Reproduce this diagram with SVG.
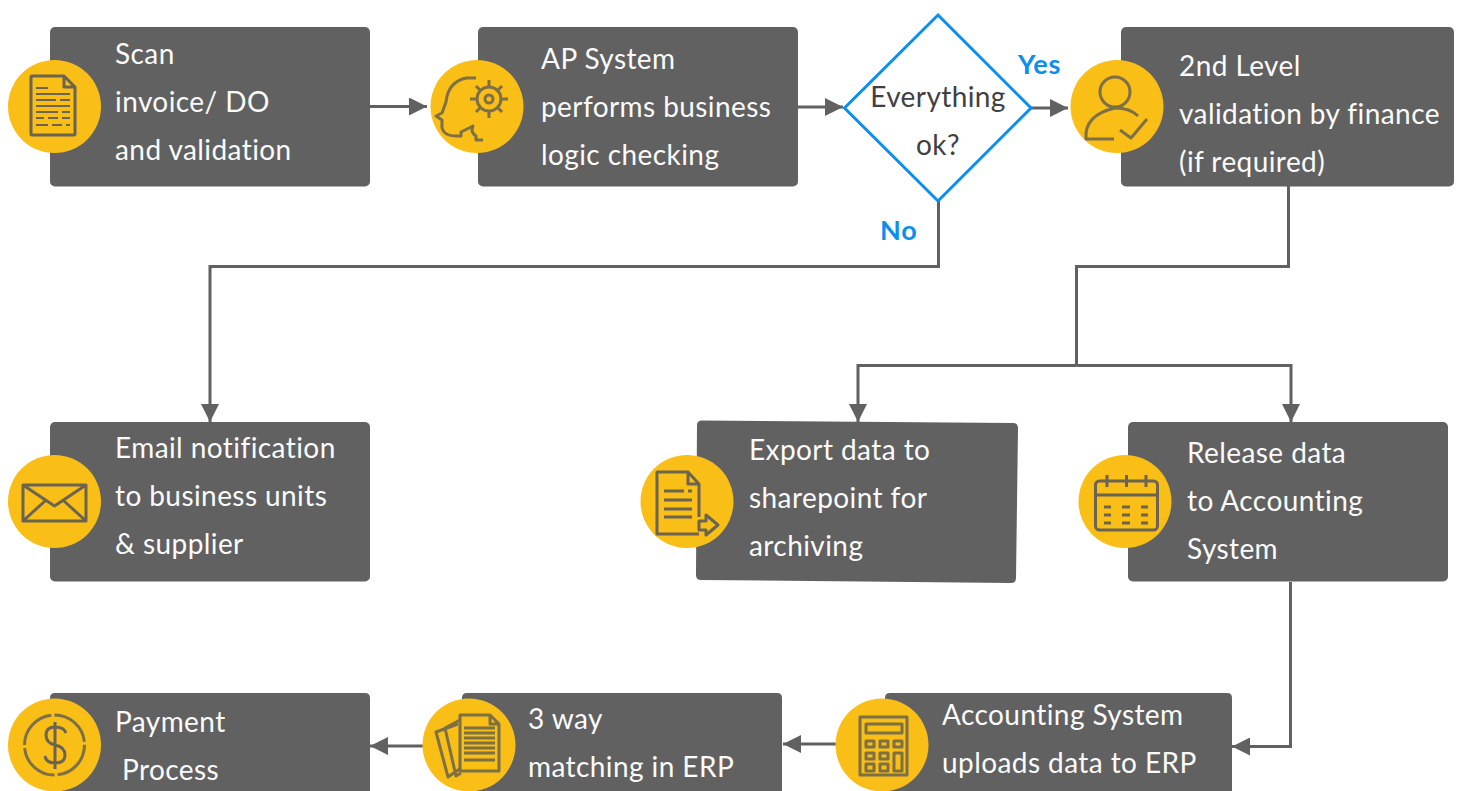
<svg xmlns="http://www.w3.org/2000/svg" width="1463" height="791" viewBox="0 0 1463 791">
<style>
.box{fill:#616161}
.disc{fill:#f9bf17}
.t{font-family:"Lato","Open Sans",sans-serif;font-size:28px;letter-spacing:.42px;fill:#fbfbfb}
.dt{font-family:"Lato","Open Sans",sans-serif;font-size:28px;letter-spacing:.4px;fill:#404040;text-anchor:middle}
.lb{font-family:"Lato","Open Sans",sans-serif;font-size:27px;letter-spacing:.8px;font-weight:700;fill:#0a8ef0}
.w{fill:none;stroke:#616161;stroke-width:3}
.i{fill:none;stroke:#6b6450;stroke-width:3;stroke-linejoin:round}
.i2{fill:none;stroke:#6b6450;stroke-width:2}
.p{fill:none;stroke:#7d7045;stroke-width:3;stroke-linejoin:round}
.a{fill:#616161}
</style>
<defs>
<marker id="ah" markerUnits="userSpaceOnUse" markerWidth="18" markerHeight="18" refX="18" refY="9" orient="auto"><path d="M0 0L18 9L0 18Z" class="a"/></marker>
</defs>
<g id="connectors">
<path class="w" d="M370 106.500H427" marker-end="url(#ah)"/>
<path class="w" d="M798 107H843" marker-end="url(#ah)"/>
<path class="w" d="M1031 108H1068" marker-end="url(#ah)"/>
<path class="w" d="M938.500 201V266.500H210V422" marker-end="url(#ah)"/>
<path class="w" d="M1288.500 186V266.500H1076.500V365.500"/>
<path class="w" d="M1076.500 365.500H858V422" marker-end="url(#ah)"/>
<path class="w" d="M1076.500 365.500H1291V422" marker-end="url(#ah)"/>
<path class="w" d="M1290.500 582V746.500H1232" marker-end="url(#ah)"/>
<path class="w" d="M836 744H783" marker-end="url(#ah)"/>
<path class="w" d="M423 746H370" marker-end="url(#ah)"/>
</g>
<g id="node-scan">
<rect class="box" x="50" y="27" width="320" height="159.500" rx="5"/>
<circle class="disc" cx="54.500" cy="106.500" r="46.500"/>
<path class="i" d="M32 76H64L75 87V134Q75 135 74 135H32Q31 135 31 134V77Q31 76 32 76ZM64 76V87H75"/>
<path class="i2" d="M36 88H48M36 94H70M36 100H56M60 100H70M36 106H70M36 112H58M62 112H70M36 118H44M48 118H58M62 118H70M36 125H48M52 125H62M66 125H70"/>
<text class="t" x="115" y="64">Scan</text>
<text class="t" x="115" y="112">invoice/ DO</text>
<text class="t" x="115" y="160">and validation</text>
</g>
<g id="node-ap">
<rect class="box" x="478" y="27" width="320" height="159.500" rx="5"/>
<circle class="disc" cx="477" cy="106.500" r="46.500"/>
<path class="p" d="M476 78H466Q448 82 446 102L442 113L436 116L442 120V128Q444 136 456 136H461V132L473 126Q470 132 476 136V140H483"/>
<circle class="p" cx="489" cy="99" r="12" stroke-width="3"/>
<path class="p" stroke-width="5" d="M489 80V87M489 111V118M470 99H477M501 99H508M476 86L481 91M497 107L502 112M476 112L481 107M497 91L502 86"/>
<circle class="p" cx="489" cy="99" r="4" stroke-width="2"/>
<text class="t" x="541" y="69">AP System</text>
<text class="t" x="541" y="117">performs business</text>
<text class="t" x="541" y="165">logic checking</text>
</g>
<g id="node-decision">
<path d="M938 15L1031 108L938 201L844.500 108Z" fill="#fff" stroke="#0a8ef0" stroke-width="3"/>
<text class="dt" x="938" y="107">Everything</text>
<text class="dt" x="938" y="155">ok?</text>
<text class="lb" x="1018" y="74">Yes</text>
<text class="lb" x="880" y="240">No</text>
</g>
<g id="node-finance">
<rect class="box" x="1121" y="27" width="333" height="159.500" rx="5"/>
<circle class="disc" cx="1117" cy="106.500" r="46.500"/>
<circle class="p" cx="1115" cy="92" r="15"/>
<path class="p" d="M1114 139H1086Q1084 115 1115 108Q1130 108 1138 116M1120 130L1131 138L1147 119"/>
<text class="t" x="1179" y="76">2nd Level</text>
<text class="t" x="1179" y="124">validation by finance</text>
<text class="t" x="1179" y="172">(if required)</text>
</g>
<g id="node-email">
<rect class="box" x="50" y="422" width="320" height="159.500" rx="5"/>
<circle class="disc" cx="54.500" cy="501.500" r="46.500"/>
<path class="i" stroke-width="3.500" d="M23 485H86V521H23ZM23 485L54.500 506L86 485M23 521L45 501M86 521L64 501"/>
<text class="t" x="115" y="458">Email notification</text>
<text class="t" x="115" y="506">to business units</text>
<text class="t" x="115" y="554">&amp; supplier</text>
</g>
<g id="node-export">
<path class="box" d="M702 420.500L1013 423Q1018 423 1018 428L1016 578Q1016 583 1011 583L701 580Q696 580 696 575L697 425Q697 420.500 702 420.500Z"/>
<circle class="disc" cx="687" cy="501.500" r="46.500"/>
<path class="i" d="M699 534H657V472H688L699 484V517M688 472V484H699"/>
<path class="i" d="M664 491H684M688 491H692M664 500H692M664 509H692M664 517H692" stroke-width="2.500"/>
<path class="i" d="M699 521H706V515L718 525L706 535V530H699Z"/>
<text class="t" x="749" y="460">Export data to</text>
<text class="t" x="749" y="508">sharepoint for</text>
<text class="t" x="749" y="556">archiving</text>
</g>
<g id="node-release">
<rect class="box" x="1128" y="422" width="320" height="159.500" rx="5"/>
<circle class="disc" cx="1125" cy="501.500" r="46.500"/>
<rect class="i" stroke-width="3.500" x="1095.500" y="481" width="62" height="49" rx="4"/>
<path class="i" stroke-width="3.500" d="M1096 495H1157M1107 475V487M1126.500 475V487M1146 475V487"/>
<path class="i" stroke-width="3.500" d="M1104 507H1111M1122 507H1130M1141 507H1148M1104 515H1111M1122 515H1130M1141 515H1148M1104 523H1111M1122 523H1130M1141 523H1148"/>
<text class="t" x="1187" y="463">Release data</text>
<text class="t" x="1187" y="511">to Accounting</text>
<text class="t" x="1187" y="559">System</text>
</g>
<g id="node-upload">
<path class="box" d="M890 693H1227Q1232 693 1232 698V791H885V698Q885 693 890 693Z"/>
<circle class="disc" cx="882" cy="745" r="46.500"/>
<rect class="p" x="860" y="717" width="47" height="58"/>
<rect class="p" x="866" y="724" width="36" height="9"/>
<path class="p" d="M866 741H874V747H866ZM880 741H888V747H880ZM894 741H902V747H894ZM866 753H874V759H866ZM880 753H888V759H880ZM866 764H874V771H866ZM880 764H888V771H880ZM894 753H902V771H894Z" stroke-width="2.500"/>
<text class="t" x="942" y="725">Accounting System</text>
<text class="t" x="942" y="773">uploads data to ERP</text>
</g>
<g id="node-match">
<path class="box" d="M467 693H777Q782 693 782 698V791H462V698Q462 693 467 693Z"/>
<circle class="disc" cx="469" cy="745" r="46.500"/>
<path class="p" stroke-width="2.500" d="M461 768L448 777L436 732L458 724M461 773L456 776L445 728L460 720"/>
<path class="p" stroke-width="2.500" d="M460 715H490L499 724V771H460ZM490 715V724H499"/>
<path class="p" stroke-width="2" d="M464 728H495M464 733H495M464 738H495M464 743H495M464 748H495M464 753H495M464 760H495"/>
<text class="t" x="528" y="729">3 way</text>
<text class="t" x="528" y="777">matching in ERP</text>
</g>
<g id="node-payment">
<path class="box" d="M55 693H365Q370 693 370 698V791H50V698Q50 693 55 693Z"/>
<circle class="disc" cx="54.500" cy="745" r="46.500"/>
<circle class="p" cx="54.500" cy="745" r="30" stroke-dasharray="44 3" stroke-width="2.500"/>
<path class="i" stroke-width="3.500" d="M66 733Q64 727 55 727Q46 727 46 735Q46 743 55 745Q65 747 65 755Q65 763 55 763Q46 763 45 756M55 722V769"/>
<text class="t" x="115" y="732">Payment</text>
<text class="t" x="122" y="780">Process</text>
</g>
</svg>
